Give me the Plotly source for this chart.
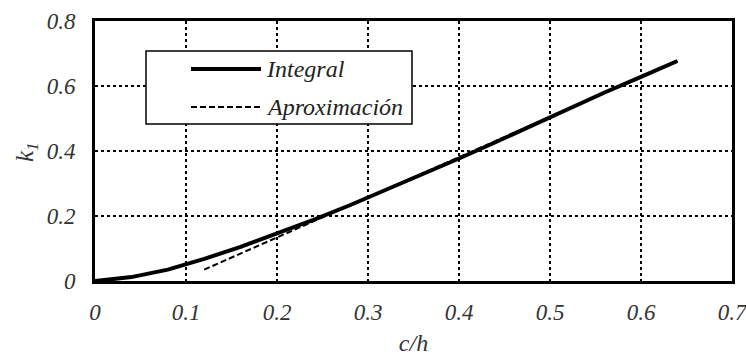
import plotly.graph_objects as go

# data
c_integral = [0.0, 0.04, 0.08, 0.12, 0.16, 0.20, 0.24, 0.28, 0.32, 0.36, 0.40, 0.44, 0.48, 0.52, 0.56, 0.60, 0.64]
k_integral = [0.0, 0.012, 0.035, 0.068, 0.105, 0.145, 0.188, 0.233, 0.280, 0.328, 0.377, 0.427, 0.478, 0.530, 0.580, 0.628, 0.677]
c_aprox = [0.12, 0.16, 0.20, 0.24, 0.28, 0.32, 0.36, 0.40, 0.44, 0.48, 0.52, 0.56, 0.60, 0.64]
k_aprox = [0.035, 0.085, 0.134, 0.183, 0.233, 0.282, 0.332, 0.381, 0.430, 0.480, 0.529, 0.578, 0.628, 0.677]
x_ticks = [0, 0.1, 0.2, 0.3, 0.4, 0.5, 0.6, 0.7]
x_labels = ["0", "0.1", "0.2", "0.3", "0.4", "0.5", "0.6", "0.7"]
y_ticks = [0, 0.2, 0.4, 0.6, 0.8]
y_labels = ["0", "0.2", "0.4", "0.6", "0.8"]
names = ["Integral", "Aproximación"]

FONT = "Liberation Serif, Times New Roman, serif"
FS = 23

fig = go.Figure()
fig.add_trace(go.Scatter(x=c_integral, y=k_integral, mode="lines", name=names[0],
                         line=dict(color="black", width=4), showlegend=False))
fig.add_trace(go.Scatter(x=c_aprox, y=k_aprox, mode="lines", name=names[1],
                         line=dict(color="black", width=2, dash="6px,3px"), showlegend=False))

W, H = 746, 356
L, R, T, B = 95, 14, 21, 75
pw, ph = W - L - R, H - T - B

def px(x):
    return (x - L) / pw

def py(y):
    return (H - B - y) / ph

# manual legend box
fig.add_shape(type="rect", xref="paper", yref="paper",
              x0=px(146), x1=px(412), y0=py(124), y1=py(51),
              line=dict(color="black", width=1.5), fillcolor="white", layer="above")
fig.add_shape(type="line", xref="paper", yref="paper",
              x0=px(191), x1=px(261), y0=py(69), y1=py(69),
              line=dict(color="black", width=4), layer="above")
fig.add_shape(type="line", xref="paper", yref="paper",
              x0=px(191), x1=px(261), y0=py(107), y1=py(107),
              line=dict(color="black", width=2, dash="6px,3px"), layer="above")
for name, yy in zip(names, [69, 107]):
    fig.add_annotation(xref="paper", yref="paper", x=px(264), y=py(yy),
                       text=f"<i>{name}</i>", showarrow=False, xanchor="left", yanchor="middle",
                       font=dict(family=FONT, size=24, color="#222"))

# y-axis title
fig.add_annotation(xref="paper", yref="paper", x=px(26), y=py(152),
                   text="<i>k<sub>1</sub></i>", showarrow=False, textangle=-90,
                   xanchor="center", yanchor="middle",
                   font=dict(family=FONT, size=25, color="#333"))

tick_font = dict(family=FONT, size=FS, color="#333")
axis_common = dict(showline=True, linecolor="black", linewidth=3, mirror=True,
                   showgrid=True, gridcolor="black", gridwidth=1.5, griddash="dot",
                   zeroline=False, ticks="", tickfont=tick_font, automargin=False,
                   ticklabeloverflow="allow")

fig.update_xaxes(range=[0, 0.7], tickvals=x_ticks, ticktext=[f"<i>{t}</i>" for t in x_labels],
                 ticklabelstandoff=8,
                 title=dict(text="<i>c/h</i>", font=dict(family=FONT, size=24, color="#333"), standoff=13),
                 **axis_common)
fig.update_yaxes(range=[0, 0.8], tickvals=y_ticks, ticktext=[f"<i>{t}</i>" for t in y_labels],
                 ticklabelstandoff=12,
                 **axis_common)

fig.update_layout(width=W, height=H, margin=dict(l=L, r=R, t=T, b=B),
                  font=dict(family=FONT, size=FS, color="#333"),
                  plot_bgcolor="white", paper_bgcolor="white", showlegend=False)

fig.write_html("out.html")
